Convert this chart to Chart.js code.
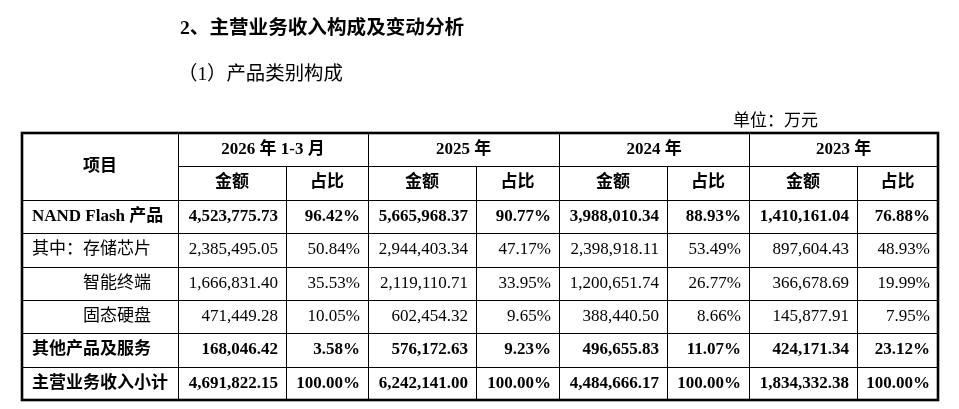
<!DOCTYPE html>
<html>
<head>
<meta charset="utf-8">
<script src="https://cdn.jsdelivr.net/npm/chart.js@4/dist/chart.umd.min.js"></script>
<style>
  html, body { margin: 0; padding: 0; background: #fff; }
  #wrap { position: relative; width: 959px; height: 409px; overflow: hidden; }
  #wrap canvas { position: absolute; left: 0; top: 0; }
  .txt { position: absolute; white-space: nowrap; color: #000;
         font-family: "Liberation Serif", "Noto Sans CJK SC", serif; }
  #title { left: 180px; top: 16px; font-size: 19.6px; line-height: 24px; font-weight: bold; }
  #subtitle { left: 178px; top: 62px; font-size: 19.4px; line-height: 24px; }
  #unit { right: 141px; top: 111px; font-size: 17px; line-height: 20px; }
</style>
</head>
<body>
<div id="wrap">
  <canvas id="ChartCanvas" width="959" height="409"></canvas>
  <div class="txt" id="title">2、主营业务收入构成及变动分析</div>
  <div class="txt" id="subtitle">（1）产品类别构成</div>
  <div class="txt" id="unit">单位：万元</div>
</div>
<script>
// table content
const firstHeader = '项目';
const periods = ['2026 年 1-3 月', '2025 年', '2024 年', '2023 年'];
const subHeaders = ['金额', '占比'];
const items = ['NAND Flash 产品', '其中：存储芯片', '智能终端', '固态硬盘', '其他产品及服务', '主营业务收入小计'];

const amount2026 = [4523775.73, 2385495.05, 1666831.40, 471449.28, 168046.42, 4691822.15];
const share2026 = [96.42, 50.84, 35.53, 10.05, 3.58, 100.00];
const amount2025 = [5665968.37, 2944403.34, 2119110.71, 602454.32, 576172.63, 6242141.00];
const share2025 = [90.77, 47.17, 33.95, 9.65, 9.23, 100.00];
const amount2024 = [3988010.34, 2398918.11, 1200651.74, 388440.50, 496655.83, 4484666.17];
const share2024 = [88.93, 53.49, 26.77, 8.66, 11.07, 100.00];
const amount2023 = [1410161.04, 897604.43, 366678.69, 145877.91, 424171.34, 1834332.38];
const share2023 = [76.88, 48.93, 19.99, 7.95, 23.12, 100.00];

const amounts = [amount2026, amount2025, amount2024, amount2023];
const shares = [share2026, share2025, share2024, share2023];

// layout (not data)
const colWidths = [156, 108, 82, 108, 83, 108, 82, 108, 81];
const headerRows = 2;
const boldRows = [0, 4, 5];
const indentRows = [2, 3];
const fontFamily = '"Liberation Serif", "Noto Sans CJK SC", serif';

const colEdges = colWidths.reduce((acc, w) => { acc.push(acc[acc.length - 1] + w); return acc; }, [0]);
const totalRows = headerRows + items.length;

function fmtAmount(v) {
  return v.toLocaleString('en-US', { minimumFractionDigits: 2, maximumFractionDigits: 2 });
}
function fmtShare(v) {
  return v.toFixed(2) + '%';
}

const tablePlugin = {
  id: 'tablePlugin',
  afterDraw: chart => {
    const ctx = chart.ctx;
    const xs = chart.scales.x;
    const ys = chart.scales.y;
    const px = v => xs.getPixelForValue(v);
    const py = v => ys.getPixelForValue(v);
    const snap = v => Math.round(v) + 0.5;
    const left = px(0), right = px(colEdges[colEdges.length - 1]);
    const top = py(0), bottom = py(totalRows);

    ctx.save();
    ctx.strokeStyle = '#000';
    ctx.lineWidth = 1;
    ctx.beginPath();
    // header split line under period titles
    ctx.moveTo(px(colEdges[1]), snap(py(1)));
    ctx.lineTo(right, snap(py(1)));
    // row lines
    for (let r = headerRows; r < totalRows; r++) {
      ctx.moveTo(left, snap(py(r)));
      ctx.lineTo(right, snap(py(r)));
    }
    // column lines
    for (let c = 1; c < colEdges.length - 1; c++) {
      const startRow = (c % 2 === 1) ? 0 : 1;
      ctx.moveTo(snap(px(colEdges[c])), py(startRow));
      ctx.lineTo(snap(px(colEdges[c])), bottom);
    }
    ctx.stroke();

    // outer border
    ctx.lineWidth = 2.6;
    ctx.strokeRect(left, top, right - left, bottom - top);

    // texts
    ctx.fillStyle = '#000';
    ctx.textBaseline = 'middle';

    ctx.font = 'bold 17px ' + fontFamily;
    ctx.textAlign = 'center';
    ctx.fillText(firstHeader, (px(colEdges[0]) + px(colEdges[1])) / 2, py(headerRows / 2));
    periods.forEach((p, i) => {
      const c0 = 1 + i * 2;
      ctx.fillText(p, (px(colEdges[c0]) + px(colEdges[c0 + 2])) / 2, py(0.5));
      subHeaders.forEach((s, j) => {
        ctx.fillText(s, (px(colEdges[c0 + j]) + px(colEdges[c0 + j + 1])) / 2, py(1.5));
      });
    });

    items.forEach((item, r) => {
      const bold = boldRows.includes(r);
      const yc = py(headerRows + r + 0.5);
      ctx.font = (bold ? 'bold ' : '') + '17px ' + fontFamily;
      ctx.textAlign = 'left';
      ctx.fillText(item, px(colEdges[0]) + 10 + (indentRows.includes(r) ? 51 : 0), yc);

      ctx.textAlign = 'right';
      periods.forEach((p, i) => {
        const c0 = 1 + i * 2;
        ctx.fillText(fmtAmount(amounts[i][r]), px(colEdges[c0 + 1]) - 8, yc);
        ctx.fillText(fmtShare(shares[i][r]), px(colEdges[c0 + 2]) - 8, yc);
      });
    });
    ctx.restore();
  }
};

new Chart(document.getElementById('ChartCanvas'), {
  type: 'scatter',
  data: { datasets: [] },
  options: {
    animation: false,
    responsive: false,
    devicePixelRatio: 1,
    layout: { padding: { left: 22, top: 133, right: 21, bottom: 9 } },
    scales: {
      x: { type: 'linear', min: 0, max: colEdges[colEdges.length - 1], display: false },
      y: { type: 'linear', min: 0, max: totalRows, reverse: true, display: false }
    },
    plugins: {
      legend: { display: false },
      tooltip: { enabled: false }
    }
  },
  plugins: [tablePlugin]
});
</script>
</body>
</html>
